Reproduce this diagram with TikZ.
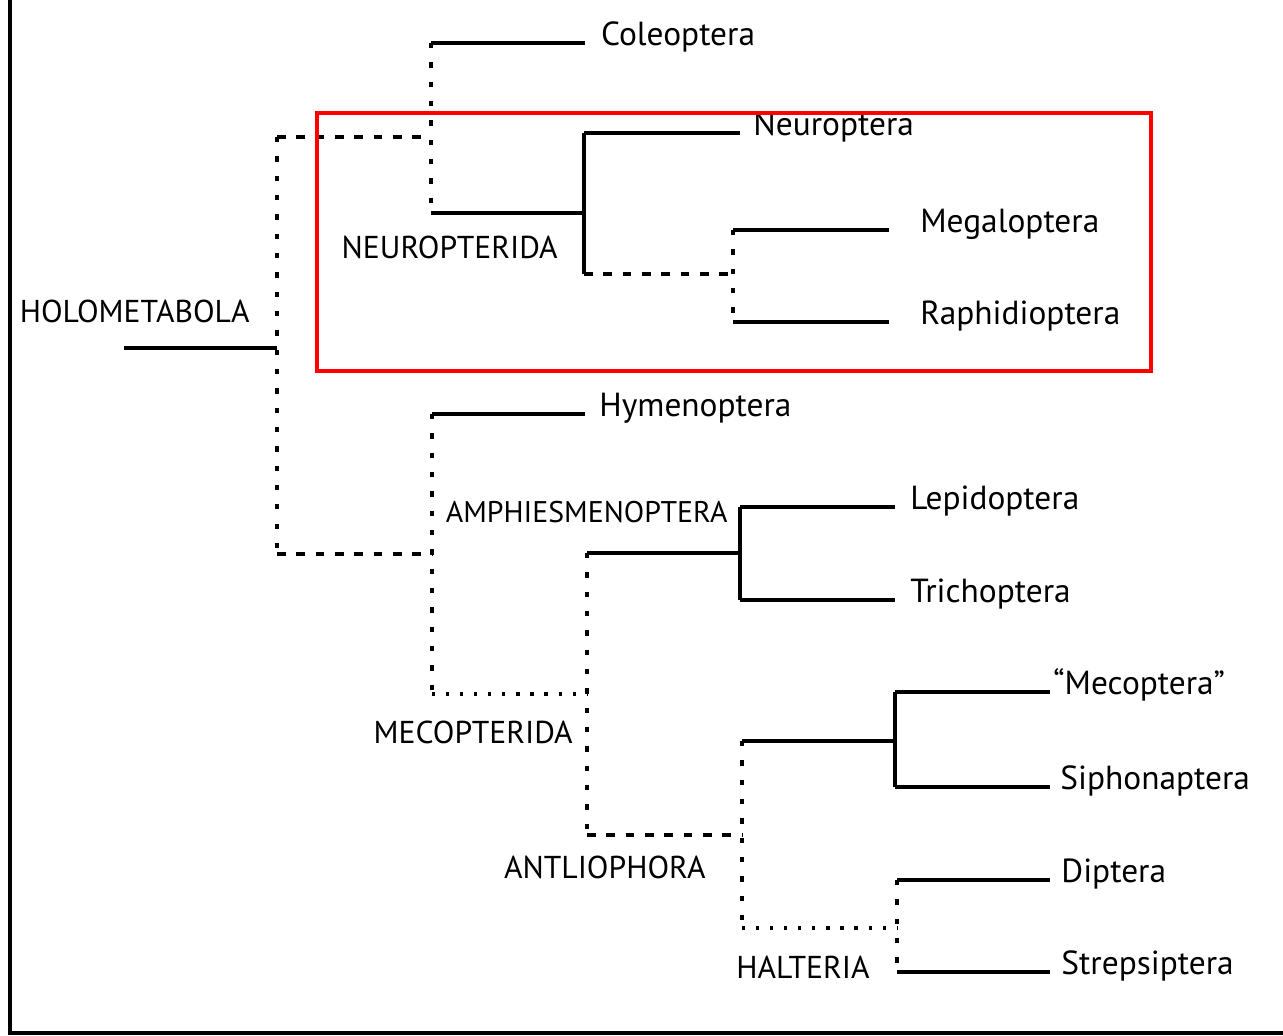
\documentclass[tikz,border=0pt]{standalone}
\usepackage{fontspec}
\setmainfont{PT Sans}
\usetikzlibrary{positioning}

\begin{document}
\begin{tikzpicture}[x=0.02cm,y=-0.02cm,
  branch/.style={line width=2pt},
  dashy/.style={line width=2.2pt,dash pattern=on 5pt off 6pt},
  dotty/.style={line width=2.4pt,dash pattern=on 3pt off 8pt},
  sparse/.style={line width=2.2pt,dash pattern=on 1.8pt off 6.2pt},
  taxon/.style={anchor=base west,inner sep=0pt,yshift=-1.5pt,font=\fontsize{19}{21}\selectfont},
  clade/.style={anchor=base east,inner sep=0pt,font=\fontsize{18}{20}\selectfont}]
  \useasboundingbox (0,0) rectangle (1283,1035);
  \draw[line width=2.4pt] (10,0) -- (10,1033) -- (1283,1033);

  \coordinate (R0) at (124,348); \coordinate (R) at (277,348);
  \coordinate (RT) at (277,137); \coordinate (RB) at (277,554);
  \coordinate (U) at (431,137); \coordinate (UT) at (431,43); \coordinate (UB) at (431,213);
  \coordinate (N) at (584,213); \coordinate (NT) at (584,133); \coordinate (NB) at (584,274);
  \coordinate (M) at (733,274); \coordinate (MT) at (733,230); \coordinate (MB) at (733,322);
  \coordinate (L) at (432,554); \coordinate (LT) at (432,414); \coordinate (LB) at (432,694);
  \coordinate (E) at (587,694); \coordinate (ET) at (587,553); \coordinate (EB) at (587,835);
  \coordinate (A) at (740,553); \coordinate (AT) at (740,507); \coordinate (AB) at (740,600);
  \coordinate (P) at (742,835); \coordinate (PT) at (742,741); \coordinate (PB) at (742,928);
  \coordinate (S) at (895,741); \coordinate (ST) at (895,692); \coordinate (SB) at (895,787);
  \coordinate (H) at (897,928); \coordinate (HT) at (897,880); \coordinate (HB) at (897,972);

  \coordinate (cole) at (585,43);   \coordinate (neur) at (740,133);
  \coordinate (mega) at (889,230);  \coordinate (raph) at (889,322);
  \coordinate (hyme) at (585,414);  \coordinate (lepi) at (895,507);
  \coordinate (tric) at (895,600);  \coordinate (meco) at (1050,692);
  \coordinate (siph) at (1050,787); \coordinate (dipt) at (1050,880);
  \coordinate (stre) at (1050,972);

  \node (Cole) [right=9pt of cole,taxon] {Coleoptera};
  \node (Neur) [right=7.4pt of neur,taxon] {Neuroptera};
  \node (Mega) [right=17.6pt of mega,taxon] {Megaloptera};
  \node (Raph) [right=17.6pt of raph,taxon] {Raphidioptera};
  \node (Hyme) [right=8pt of hyme,taxon] {Hymenoptera};
  \node (Lepi) [right=8.5pt of lepi,taxon] {Lepidoptera};
  \node (Tric) [right=8.5pt of tric,taxon] {Trichoptera};
  \node (Meco) [right=1.7pt of meco,taxon] {“Mecoptera”};
  \node (Siph) [right=5.7pt of siph,taxon] {Siphonaptera};
  \node (Dipt) [right=6.3pt of dipt,taxon] {Diptera};
  \node (Stre) [right=6.3pt of stre,taxon] {Strepsiptera};

  \node (Holo) [clade] at (250,322) {HOLOMETABOLA};
  \node (Neuro) [clade] at (558,258) {NEUROPTERIDA};
  \node (Amph) [clade,font=\fontsize{17}{19}\selectfont] at (728,522) {AMPHIESMENOPTERA};
  \node (Meso) [clade] at (573,743) {MECOPTERIDA};
  \node (Antl) [clade] at (706,878) {ANTLIOPHORA};
  \node (Halt) [clade] at (870,978) {HALTERIA};

  \draw[branch] (R0) -- (R);
  \draw[dotty] (RT) -- (RB);
  \draw[dashy] (RT) -- (U);
  \draw[dashy] (RB) -- (L);
  \draw[dotty] (UT) -- (UB);
  \draw[branch] (UT) -- (cole);
  \draw[branch] (UB) -- (N);
  \draw[branch] (NT) -- (NB);
  \draw[branch] (NT) -- (neur);
  \draw[dashy] (NB) -- (M);
  \draw[dotty] (MT) -- (MB);
  \draw[branch] (MT) -- (mega);
  \draw[branch] (MB) -- (raph);

  \draw[dotty] (LT) -- (LB);
  \draw[branch] (LT) -- (hyme);
  \draw[sparse] (LB) -- (E);
  \draw[dotty] (ET) -- (EB);
  \draw[branch] (ET) -- (A);
  \draw[branch] (AT) -- (AB);
  \draw[branch] (AT) -- (lepi);
  \draw[branch] (AB) -- (tric);
  \draw[dashy] (EB) -- (P);
  \draw[dotty] (PT) -- (PB);
  \draw[branch] (PT) -- (S);
  \draw[branch] (ST) -- (SB);
  \draw[branch] (ST) -- (meco);
  \draw[branch] (SB) -- (siph);
  \draw[sparse] (PB) -- (H);
  \draw[dotty] (HT) -- (HB);
  \draw[branch] (HT) -- (dipt);
  \draw[branch] (HB) -- (stre);

  \draw[red,line width=2.4pt] (317,113) rectangle (1151,371);
\end{tikzpicture}
\end{document}
